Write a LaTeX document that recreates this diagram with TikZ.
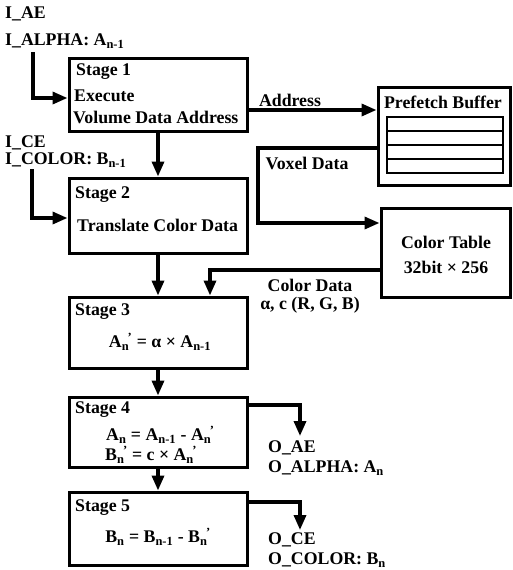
\documentclass[tikz,border=0pt]{standalone}
\usepackage{fontspec}
\setmainfont{Liberation Serif}
\usetikzlibrary{arrows.meta}
\newcommand\sbs[1]{\textsubscript{#1}}
\newcommand\sbp[1]{\textsubscript{#1}\kern-1.5pt\textsuperscript{’}}
\begin{document}
\begin{tikzpicture}[x=1pt,y=-1pt,
  box/.style={draw, line width=3pt, inner sep=0pt},
  txt/.style={inner sep=0pt, font=\bfseries\fontsize{17.8}{20}\selectfont},
  arr/.style={line width=3.4pt, -{Triangle[length=15pt,width=12pt]}}]
\useasboundingbox (0,0) rectangle (512,570);
% boxes
\node[box, minimum width=178pt, minimum height=73pt] (s1) at (158,94.5) {};
\node[box, minimum width=178pt, minimum height=75pt] (s2) at (158,215.5) {};
\node[box, minimum width=178pt, minimum height=71pt] (s3) at (158,332.5) {};
\node[box, minimum width=178pt, minimum height=70pt] (s4) at (158,432) {};
\node[box, minimum width=178pt, minimum height=73pt] (s5) at (158,528.5) {};
\node[box, minimum width=132pt, minimum height=98pt] (pb) at (444,136) {};
\node[box, minimum width=129pt, minimum height=89pt] (ct) at (445.5,252.5) {};
% prefetch slots
\draw[line width=2.2pt] (387,117) rectangle (503,173);
\draw[line width=2.2pt] (387,131) -- (503,131) (387,145) -- (503,145) (387,159) -- (503,159);
% texts
\node[txt, anchor=west] (iae) at (5,14) {I\_AE};
\node[txt, anchor=west] (ialpha) at (5,41) {I\_ALPHA: A\sbs{n-1}};
\node[txt, anchor=west] (ice) at (5,143) {I\_CE};
\node[txt, anchor=west] (icolor) at (5,160) {I\_COLOR: B\sbs{n-1}};
\node[txt, anchor=west] (t1a) at (76,72) {Stage 1};
\node[txt, anchor=west] (t1b) at (74,96) {Execute};
\node[txt, anchor=west] (t1c) at (73,117) {Volume Data Address};
\node[txt, anchor=west] (t2a) at (75,195) {Stage 2};
\node[txt, anchor=west] (t2b) at (77,225) {Translate Color Data};
\node[txt, anchor=west] (t3a) at (75,312) {Stage 3};
\node[txt] (t3b) at (160,342) {A\sbp{n} = α × A\sbs{n-1}};
\node[txt, anchor=west] (t4a) at (75,410) {Stage 4};
\node[txt, anchor=west] (t4b) at (106,435) {A\sbs{n} = A\sbs{n-1} - A\sbp{n}};
\node[txt, anchor=west] (t4c) at (105,455) {B\sbp{n} = c × A\sbp{n}};
\node[txt, anchor=west] (t5a) at (75,508) {Stage 5};
\node[txt] (t5b) at (158,537) {B\sbs{n} = B\sbs{n-1} - B\sbp{n}};
\node[txt] (addr) at (290,100) {Address};
\node[txt] (pbt) at (443,102) {Prefetch Buffer};
\node[txt] (vox) at (307,163) {Voxel Data};
\node[txt] (ctt1) at (446,242) {Color Table};
\node[txt] (ctt2) at (446,267) {32bit × 256};
\node[txt] (cd1) at (310,285) {Color Data};
\node[txt] (cd2) at (310,305) {α, c (R, G, B)};
\node[txt, anchor=west] (oae) at (268,448) {O\_AE};
\node[txt, anchor=west] (oalpha) at (268,468) {O\_ALPHA: A\sbs{n}};
\node[txt, anchor=west] (oce) at (268,540) {O\_CE};
\node[txt, anchor=west] (ocolor) at (268,560) {O\_COLOR: B\sbs{n}};
% coordinates
\coordinate (i1) at (33,52);
\coordinate (i1b) at (33,98);
\coordinate (i2) at (32,169);
\coordinate (i2b) at (32,218);
\coordinate (a1) at (247,110);
\coordinate (v1) at (258,148);
\coordinate (v2) at (258,223);
\coordinate (c1) at (210,270);
\coordinate (o1) at (300,405);
\coordinate (o1b) at (300,436);
\coordinate (o2) at (300,502);
\coordinate (o2b) at (300,530);
% connectors
\draw[arr] (i1) -- (i1b) -- (i1b -| s1.west);
\draw[arr] (i2) -- (i2b) -- (i2b -| s2.west);
\draw[arr] (s1.south) -- (s2.north);
\draw[arr] (s2.south) -- (s3.north);
\draw[arr] (s3.south) -- (s4.north);
\draw[arr] (s4.south) -- (s5.north);
\draw[arr] (s1.east |- a1) -- (a1 -| pb.west);
\draw[arr] (pb.west |- v1) -- (v1) -- (v2) -- (v2 -| ct.west);
\draw[arr] (ct.west |- c1) -- (c1) -- (c1 |- s3.north);
\draw[arr] (s4.east |- o1) -- (o1) -- (o1b);
\draw[arr] (s5.east |- o2) -- (o2) -- (o2b);
\end{tikzpicture}
\end{document}
